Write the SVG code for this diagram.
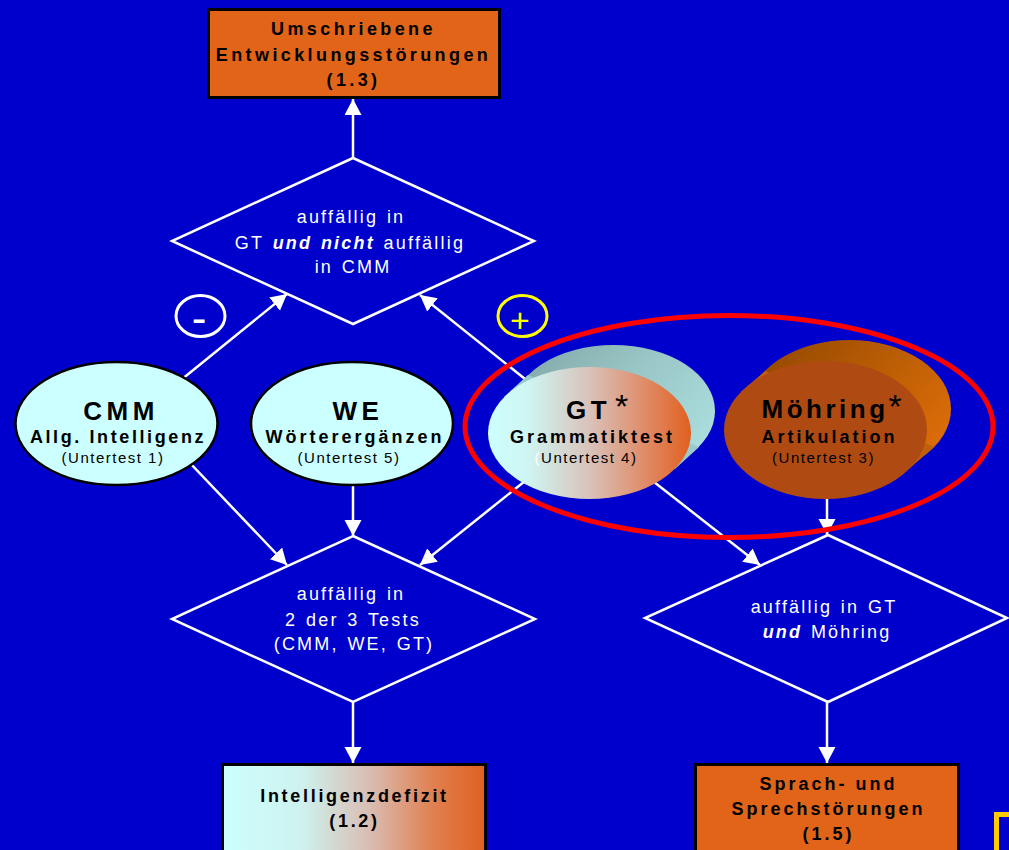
<svg xmlns="http://www.w3.org/2000/svg" width="1009" height="850" viewBox="0 0 1009 850">
<defs>
<marker id="ah" markerUnits="userSpaceOnUse" markerWidth="18" markerHeight="18" refX="16" refY="8.5" orient="auto">
<path d="M0,0 L16,8.5 L0,17 z" fill="#ffffff"/>
</marker>
<linearGradient id="gCyanOrange" x1="0" y1="0" x2="1" y2="0">
<stop offset="0" stop-color="#CCFFFF"/>
<stop offset="0.2" stop-color="#CFF5F2"/>
<stop offset="0.5" stop-color="#D9C2BA"/>
<stop offset="0.78" stop-color="#E08A66"/>
<stop offset="1" stop-color="#E06020"/>
</linearGradient>
<linearGradient id="gBox" x1="0" y1="0" x2="1" y2="0">
<stop offset="0" stop-color="#CCFFFF"/>
<stop offset="0.3" stop-color="#CEF2EE"/>
<stop offset="0.55" stop-color="#D9BFB6"/>
<stop offset="0.8" stop-color="#E08050"/>
<stop offset="1" stop-color="#E06020"/>
</linearGradient>
<linearGradient id="gGTback" x1="0" y1="0" x2="1" y2="0.6">
<stop offset="0" stop-color="#7FA4A4"/>
<stop offset="0.5" stop-color="#98C4C4"/>
<stop offset="1" stop-color="#AADCDC"/>
</linearGradient>
<linearGradient id="gMback" x1="0" y1="0" x2="1" y2="0.6">
<stop offset="0" stop-color="#8E4400"/>
<stop offset="0.5" stop-color="#B45A04"/>
<stop offset="1" stop-color="#DA6C08"/>
</linearGradient>
<style>
.conn{stroke:#ffffff;stroke-width:2.5;fill:none}
.dia{stroke:#ffffff;stroke-width:2.5;fill:none}
.box{stroke:#000000;stroke-width:3}
.ell{fill:#CCFFFF;stroke:#000000;stroke-width:2.5}
.bl{font-family:"Liberation Sans",Arial,sans-serif;font-weight:bold;font-size:18px;letter-spacing:3px;fill:#000000;text-anchor:middle}
.big{font-family:"Liberation Sans",Arial,sans-serif;font-weight:bold;font-size:26px;letter-spacing:4.5px;fill:#000000;text-anchor:middle}
.sm{font-family:"Liberation Sans",Arial,sans-serif;font-size:15px;letter-spacing:1.5px;fill:#000000;text-anchor:middle}
.dt{font-family:"Liberation Sans",Arial,sans-serif;font-size:18px;letter-spacing:2.2px;word-spacing:1.5px;fill:#ffffff;text-anchor:middle}
.bi{font-weight:bold;font-style:italic}
.ast{font-family:"Liberation Sans",Arial,sans-serif;font-size:34px;fill:#000000;text-anchor:middle}
</style>
</defs>
<rect x="0" y="0" width="1009" height="850" fill="#0000CC"/>

<g id="connectors">
<line class="conn" x1="353" y1="158" x2="353" y2="99" marker-end="url(#ah)"/>
<line class="conn" x1="160" y1="397" x2="287" y2="294" marker-end="url(#ah)"/>
<line class="conn" x1="540" y1="391" x2="420" y2="295" marker-end="url(#ah)"/>
<line class="conn" x1="170" y1="442" x2="287" y2="565" marker-end="url(#ah)"/>
<line class="conn" x1="353" y1="460" x2="353" y2="536" marker-end="url(#ah)"/>
<line class="conn" x1="540" y1="469" x2="420" y2="565" marker-end="url(#ah)"/>
<line class="conn" x1="640" y1="471" x2="760" y2="565" marker-end="url(#ah)"/>
<line class="conn" x1="827" y1="480" x2="827" y2="535" marker-end="url(#ah)"/>
<line class="conn" x1="353" y1="702" x2="353" y2="763" marker-end="url(#ah)"/>
<line class="conn" x1="827" y1="702" x2="827" y2="763" marker-end="url(#ah)"/>
</g>

<g id="box-umschriebene">
<rect class="box" x="208.5" y="9.5" width="291" height="88" fill="#E26418"/>
<text class="bl" x="353.5" y="35" style="letter-spacing:3.4px">Umschriebene</text>
<text class="bl" x="353.5" y="61" style="letter-spacing:3.4px">Entwicklungsstörungen</text>
<text class="bl" x="353.5" y="86" style="letter-spacing:3.4px">(1.3)</text>
</g>

<g id="diamond-gt-nicht-cmm">
<polygon class="dia" points="353,158 534,241 353,324 172,241"/>
<text class="dt" x="351" y="223">auffällig in</text>
<text class="dt" x="350" y="249">GT <tspan class="bi">und nicht</tspan> auffällig</text>
<text class="dt" x="353" y="273">in CMM</text>
</g>

<g id="minus">
<ellipse cx="200.5" cy="316" rx="24.5" ry="20.5" fill="none" stroke="#ffffff" stroke-width="3"/>
<text x="199" y="333" font-family="Liberation Sans,Arial,sans-serif" font-size="44" fill="#ffffff" text-anchor="middle">-</text>
</g>

<g id="plus">
<ellipse cx="522.5" cy="316" rx="24.5" ry="20.5" fill="none" stroke="#FFFF00" stroke-width="3"/>
<text x="520" y="332" font-family="Liberation Sans,Arial,sans-serif" font-size="34" fill="#FFFF00" text-anchor="middle">+</text>
</g>

<g id="node-cmm">
<ellipse class="ell" cx="116.5" cy="423.5" rx="101" ry="61.5"/>
<text class="big" x="121" y="420">CMM</text>
<text class="bl" x="118" y="443" style="letter-spacing:2.6px">Allg. Intelligenz</text>
<text class="sm" x="113" y="463">(Untertest 1)</text>
</g>

<g id="node-we">
<ellipse class="ell" cx="352" cy="423.5" rx="101" ry="61.5"/>
<text class="big" x="358" y="420">WE</text>
<text class="bl" x="355" y="443">Wörterergänzen</text>
<text class="sm" x="349" y="463">(Untertest 5)</text>
</g>

<g id="node-gt">
<ellipse cx="613.5" cy="411" rx="101.5" ry="66" fill="url(#gGTback)"/>
<polygon points="675,469 699,447 528,375 504,397" fill="#9CCACA"/>
<ellipse cx="589.5" cy="433" rx="101.5" ry="66" fill="url(#gCyanOrange)"/>
<text class="big" x="588.5" y="419">GT</text>
<text class="ast" x="621.5" y="418">*</text>
<text class="bl" x="592.5" y="443">Grammatiktest</text>
<text class="sm" x="586" y="463"><tspan fill="#ffffff">(</tspan>Untertest 4)</text>
</g>

<g id="node-moehring">
<ellipse cx="849.5" cy="409" rx="101.5" ry="69" fill="url(#gMback)"/>
<polygon points="910,468 934,447 765,371 741,392" fill="#C0600A"/>
<ellipse cx="825.5" cy="430" rx="101.5" ry="69" fill="#AF4B12"/>
<text class="big" x="825" y="418" style="letter-spacing:3.5px">Möhring</text>
<text class="ast" x="895" y="418">*</text>
<text class="bl" x="829.5" y="443">Artikulation</text>
<text class="sm" x="823.5" y="463">(Untertest 3)</text>
</g>

<g id="diamond-2-von-3">
<polygon class="dia" points="353,536 535,619 353,702 172,619"/>
<text class="dt" x="351" y="600">auffällig in</text>
<text class="dt" x="353" y="626">2 der 3 Tests</text>
<text class="dt" x="354" y="650">(CMM, WE, GT)</text>
</g>

<g id="diamond-gt-moehring">
<polygon class="dia" points="828,535 1007,618 828,702 645,618"/>
<text class="dt" x="824" y="613">auffällig in GT</text>
<text class="dt" x="827" y="638"><tspan class="bi">und</tspan> Möhring</text>
</g>

<g id="box-intelligenzdefizit">
<rect class="box" x="222.5" y="764.5" width="263" height="120" fill="url(#gBox)"/>
<text class="bl" x="354.5" y="802" style="letter-spacing:2.7px">Intelligenzdefizit</text>
<text class="bl" x="354.5" y="827" style="letter-spacing:2.7px">(1.2)</text>
</g>

<g id="box-sprach">
<rect class="box" x="695.5" y="764.5" width="263" height="120" fill="#E26418"/>
<text class="bl" x="828.5" y="790" style="letter-spacing:3px">Sprach- und</text>
<text class="bl" x="828.5" y="815" style="letter-spacing:3px">Sprechstörungen</text>
<text class="bl" x="828.5" y="840" style="letter-spacing:3px">(1.5)</text>
</g>

<g id="highlight">
<ellipse cx="729" cy="426.5" rx="264" ry="111" fill="none" stroke="#FF0000" stroke-width="5"/>
</g>

<g id="corner">
<rect x="996.5" y="814.5" width="100" height="100" fill="none" stroke="#FFCC00" stroke-width="5"/>
</g>
</svg>
